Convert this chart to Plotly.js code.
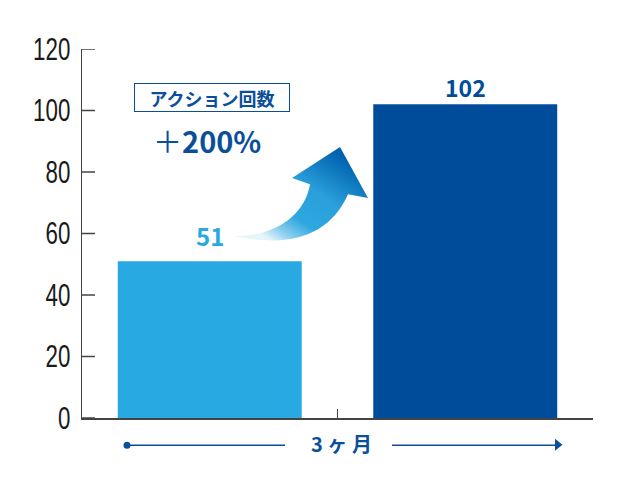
<!DOCTYPE html>
<html>
<head>
<meta charset="utf-8">
<script src="https://cdn.plot.ly/plotly-3.0.1.min.js"></script>
<style>
  html, body { margin: 0; padding: 0; background: #fff; }
  #chart { width: 640px; height: 480px; }
</style>
</head>
<body>
<div id="chart"></div>
<script>
//------------------------------ data ------------------------------//
var periods = ['開始時', '3ヶ月後'];
var actions = [51, 102];
var y_ticks = [0, 20, 40, 60, 80, 100, 120];

var bar_colors = ['#29a9e1', '#004c9b'];
var navy = '#0b4f9a';
var axis_col = '#444';
var jp = '"Noto Sans CJK JP", "Noto Sans", sans-serif';

// plot area in pixels (used to place the decorations in paper units)
var L = 82, R = 593, T = 49, B = 417.7;
function px(x) { return (x - L) / (R - L); }
function py(y) { return (B - y) / (B - T); }

var trace1 = {
  x: periods,
  y: actions,
  type: 'bar',
  marker: {color: bar_colors, line: {width: 0}},
  hoverinfo: 'skip'
};

//---------------------- value labels on the bars -----------------------//
var shifts = [6, -2];
var sizes = [24, 23];
var annos = periods.map(function (p, i) {
  return {
    x: p, y: actions[i], xref: 'x', yref: 'y',
    text: String(actions[i]), showarrow: false,
    xanchor: 'center', yanchor: 'bottom', yshift: shifts[i],
    font: {family: jp, size: sizes[i], color: bar_colors[i], weight: 'bold'}
  };
});

annos.push({
  xref: 'paper', yref: 'paper', x: px(212), y: py(97.5),
  xanchor: 'center', yanchor: 'middle',
  text: 'アクション回数', showarrow: false,
  width: 150, height: 23, borderpad: 2,
  bordercolor: navy, borderwidth: 1, bgcolor: '#fff',
  font: {family: jp, size: 18, color: navy, weight: 'bold'}
});
annos.push({
  xref: 'paper', yref: 'paper', x: px(207), y: py(140),
  xanchor: 'center', yanchor: 'middle',
  text: '<span style="font-weight:normal">＋</span>200%', showarrow: false,
  font: {family: jp, size: 29, color: navy, weight: 'bold'}
});
annos.push({
  xref: 'paper', yref: 'paper', x: px(341), y: py(443),
  xanchor: 'center', yanchor: 'middle',
  text: '3 ヶ 月', showarrow: false,
  font: {family: jp, size: 20, color: navy, weight: 'bold'}
});

//--------------------------- decorations ----------------------------//
function P(x, y) { return px(x).toFixed(4) + ',' + py(y).toFixed(4); }

var arrow_path = 'M' + P(235, 236) +
  ' C' + P(275, 236) + ' ' + P(305, 215) + ' ' + P(310, 184) +
  ' L' + P(292, 178) + ' L' + P(340, 147) + ' L' + P(368, 198) + ' L' + P(348, 194) +
  ' C' + P(330, 235) + ' ' + P(290, 248) + ' ' + P(235, 236) + ' Z';

var shapes = [
  {type: 'path', xref: 'paper', yref: 'paper', path: arrow_path,
   fillcolor: '#2ea7df', line: {width: 0}, layer: 'above'},
  {type: 'circle', xref: 'paper', yref: 'paper',
   x0: px(123.5), x1: px(130.5), y0: py(448.5), y1: py(441.5),
   fillcolor: navy, line: {width: 0}},
  {type: 'line', xref: 'paper', yref: 'paper',
   x0: px(127), x1: px(285), y0: py(445), y1: py(445),
   line: {color: navy, width: 1.5}},
  {type: 'line', xref: 'paper', yref: 'paper',
   x0: px(392), x1: px(556), y0: py(445), y1: py(445),
   line: {color: navy, width: 1.5}},
  {type: 'path', xref: 'paper', yref: 'paper',
   path: 'M' + P(555, 438.5) + ' L' + P(562.5, 444.5) + ' L' + P(555, 450.5) + ' Z',
   fillcolor: navy, line: {width: 0}}
];

// short inward tick marks on the y axis
y_ticks.forEach(function (v) {
  shapes.push({type: 'line', xref: 'paper', yref: 'y',
    x0: 0, x1: px(L + 13), y0: v, y1: v,
    line: {color: axis_col, width: 1.5}});
});

var layout = {
  width: 640, height: 480,
  margin: {l: L, r: 640 - R, t: T, b: 480 - B},
  paper_bgcolor: '#fff', plot_bgcolor: '#fff',
  showlegend: false,
  bargap: 0.28,
  xaxis: {
    type: 'category', range: [-0.5, 1.5],
    tickson: 'boundaries', ticks: 'inside', ticklen: 9, tickwidth: 1.5, tickcolor: axis_col,
    showticklabels: false, showline: true, linecolor: axis_col, linewidth: 1.5,
    showgrid: false, zeroline: false, fixedrange: true
  },
  yaxis: {
    range: [0, 120], tickvals: y_ticks, ticktext: y_ticks.map(String),
    ticks: '', showline: true, linecolor: axis_col, linewidth: 1.5,
    showgrid: false, zeroline: false, fixedrange: true,
    ticklabelstandoff: 4,
    tickfont: {family: '"Liberation Sans", Arial, sans-serif', size: 31, color: '#1a1a1a'}
  },
  annotations: annos,
  shapes: shapes
};

var config = {responsive: false, displayModeBar: false, staticPlot: true};

Plotly.newPlot('chart', [trace1], layout, config).then(function (gd) {
  // narrow the y tick numbers, keeping their right edge in place
  gd.querySelectorAll('.ytick text').forEach(function (t) {
    var x = +t.getAttribute('x') || 0;
    var tr = t.getAttribute('transform') || '';
    t.setAttribute('transform', tr + ' translate(' + x + ',0) scale(0.72,1) translate(' + (-x) + ',0)');
  });

  // gradient fill for the curved arrow
  var svg = gd.querySelector('svg.main-svg');
  var ns = 'http://www.w3.org/2000/svg';
  var defs = svg.querySelector('defs') || svg.insertBefore(document.createElementNS(ns, 'defs'), svg.firstChild);
  var g = document.createElementNS(ns, 'linearGradient');
  g.setAttribute('id', 'arrowGrad');
  g.setAttribute('x1', '0'); g.setAttribute('y1', '0.75');
  g.setAttribute('x2', '0.7'); g.setAttribute('y2', '0');
  [['0', '#e6f4fb'], ['0.12', '#8fd0ee'], ['0.3', '#2ea7df'], ['0.6', '#2a9fda'], ['1', '#0062ae']].forEach(function (s) {
    var st = document.createElementNS(ns, 'stop');
    st.setAttribute('offset', s[0]);
    st.setAttribute('stop-color', s[1]);
    g.appendChild(st);
  });
  defs.appendChild(g);
  var arrow = gd.querySelector('.layer-above .shapelayer path[data-index="0"]');
  if (arrow) arrow.style.fill = 'url(#arrowGrad)';
});
</script>
</body>
</html>
